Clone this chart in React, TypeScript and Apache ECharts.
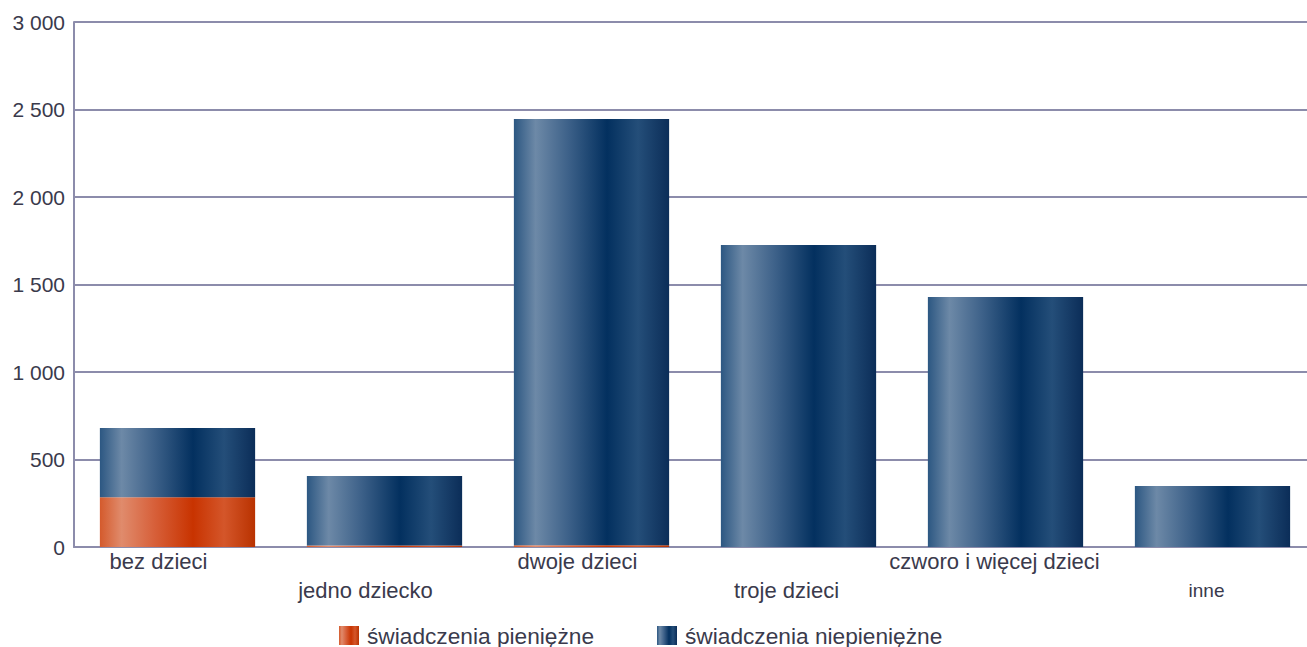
import React, { useEffect, useRef } from "react";
import * as echarts from "echarts";

const categories = ["bez dzieci", "jedno dziecko", "dwoje dzieci", "troje dzieci", "czworo i więcej dzieci", "inne"];
const cashValues = [285, 8, 10, 0, 0, 0];
const nonCashValues = [395, 398, 2436, 1726, 1429, 349];
const seriesNames = ["świadczenia pieniężne", "świadczenia niepieniężne"];
const yTicks = [0, 500, 1000, 1500, 2000, 2500, 3000];
// leftward shift (px) of each category label relative to its bar centre
const labelShift = [19, 19, 14, 12, 11, 6];

const blueGrad = new echarts.graphic.LinearGradient(0, 0, 1, 0, [
  { offset: 0, color: "#2c5782" },
  { offset: 0.14, color: "#6d89a7" },
  { offset: 0.35, color: "#3d6189" },
  { offset: 0.6, color: "#03305f" },
  { offset: 0.8, color: "#244e79" },
  { offset: 1, color: "#0b2d58" },
]);
const orangeGrad = new echarts.graphic.LinearGradient(0, 0, 1, 0, [
  { offset: 0, color: "#d45a2c" },
  { offset: 0.14, color: "#e08b6c" },
  { offset: 0.35, color: "#d7603a" },
  { offset: 0.6, color: "#c83300" },
  { offset: 0.8, color: "#d4562a" },
  { offset: 1, color: "#b93200" },
]);

const fmt = (v: number) => String(v).replace(/\B(?=(\d{3})+(?!\d))/g, " ");

export default function App() {
  const ref = useRef<HTMLDivElement>(null);
  useEffect(() => {
    if (!ref.current) return;
    const chart = echarts.init(ref.current, null, { renderer: "svg" });
    const axisColor = "#8c8cab";
    const textColor = "#3a3a4c";
    const rich: Record<string, any> = {};
    labelShift.forEach((s, i) => {
      rich["l" + i] = {
        fontSize: categories[i] === "inne" ? 19 : 22,
        color: textColor,
        lineHeight: 29,
        padding: [0, 2 * s, 0, 0],
      };
    });
    chart.setOption({
      animation: false,
      textStyle: { fontFamily: "Liberation Sans, Arial, sans-serif" },
      grid: { left: 74, top: 22, width: 1242, height: 525 },
      legend: {
        top: 619,
        left: 334,
        icon: "rect",
        itemWidth: 20,
        itemHeight: 19,
        itemGap: 63,
        textStyle: { fontSize: 22.7, color: textColor, padding: [0, 0, 0, 3] },
        data: seriesNames,
      },
      xAxis: {
        type: "category",
        data: categories,
        axisLine: { lineStyle: { color: axisColor, width: 2 } },
        axisTick: { show: false },
        axisLabel: {
          interval: 0,
          margin: 0,
          fontSize: 22,
          color: textColor,
          lineHeight: 29,
          formatter: (v: string, i: number) => {
            const t = "{l" + i + "|" + v + "}";
            return i % 2 === 1 ? "\n" + t : t;
          },
          rich,
        },
      },
      yAxis: {
        type: "value",
        min: yTicks[0],
        max: yTicks[yTicks.length - 1],
        interval: 500,
        axisLine: { show: true, lineStyle: { color: axisColor, width: 2 } },
        axisTick: { show: false },
        splitLine: { lineStyle: { color: axisColor, width: 2 } },
        axisLabel: { fontSize: 21, color: textColor, margin: 9, formatter: (v: number) => fmt(v) },
      },
      series: [
        {
          name: seriesNames[0],
          type: "bar",
          stack: "a",
          barWidth: "75%",
          data: cashValues,
          itemStyle: { color: orangeGrad },
        },
        {
          name: seriesNames[1],
          type: "bar",
          stack: "a",
          barWidth: "75%",
          data: nonCashValues,
          itemStyle: { color: blueGrad },
        },
      ],
    });
    return () => chart.dispose();
  }, []);
  return (
    <div style={{ width: 1307, height: 647, position: "absolute", left: 0, top: 0, overflow: "hidden" }}>
      <div ref={ref} style={{ width: 1320, height: 647 }} />
    </div>
  );
}
